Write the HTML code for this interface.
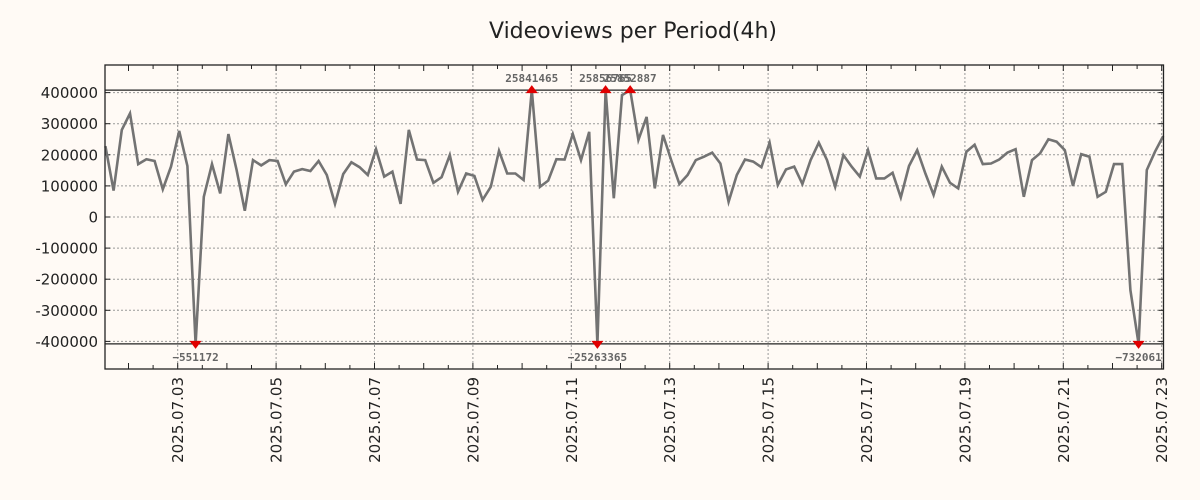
<!DOCTYPE html>
<html><head><meta charset="utf-8"><style>
body{margin:0;background:#fffaf5;}
svg{display:block;font-family:"DejaVu Sans","Liberation Sans",sans-serif;}
</style></head><body>
<svg id="chart" width="1200" height="500" viewBox="0 0 1200 500">
<rect x="0" y="0" width="1200" height="500" fill="#fffaf5"/>
<text x="633" y="38" text-anchor="middle" font-size="22" fill="#222">Videoviews per Period(4h)</text>
<g id="grid"></g>
<g id="yaxis"></g>
<g id="xaxis"></g>
<g id="series"></g>
<rect x="105" y="65" width="1058.5" height="304" fill="none" stroke="#222" stroke-width="1.3"/>
</svg>
<script>
const values = [228000,85000,280000,333000,170000,186000,180000,89000,162000,277000,164000,-551172,65000,170000,76000,267000,151000,20000,183000,166000,183000,180000,105000,146000,154000,148000,180000,135000,42000,138000,176000,160000,135000,218000,130000,146000,42000,280000,185000,183000,110000,128000,199000,81000,140000,132000,55000,97000,213000,140000,140000,119000,25841465,97000,117000,186000,185000,267000,183000,274000,-25263365,25856765,60000,392000,25852887,248000,322000,92000,264000,183000,106000,135000,183000,194000,207000,172000,49000,135000,185000,178000,160000,239000,103000,153000,162000,106000,183000,239000,183000,97000,199000,162000,130000,215000,124000,124000,142000,63000,164000,215000,140000,71000,162000,110000,92000,210000,232000,170000,172000,185000,207000,218000,65000,183000,205000,250000,242000,215000,100000,202000,194000,65000,81000,170000,170000,-235000,-732061,151000,210000,260000];
const yTicks = [400000,300000,200000,100000,0,-100000,-200000,-300000,-400000];
const xTickLabels = ["2025.07.03","2025.07.05","2025.07.07","2025.07.09","2025.07.11","2025.07.13","2025.07.15","2025.07.17","2025.07.19","2025.07.21","2025.07.23"];
const xTickDays = [2,4,6,8,10,12,14,16,18,20,22];
const startDay = 0.53, stepDay = 1/6, clipVal = 408000;

const NS = "http://www.w3.org/2000/svg";
const L=105,R=1163.5,T=65,B=369;
const yS = v => 217 - v/100000*31.1;
const xS = d => 177.7 + (d-2)*49.2;
function mk(tag, attrs, parent){const e=document.createElementNS(NS,tag);for(const k in attrs)e.setAttribute(k,attrs[k]);parent.appendChild(e);return e;}
const grid=document.getElementById('grid'), ya=document.getElementById('yaxis'), xa=document.getElementById('xaxis'), se=document.getElementById('series');

yTicks.forEach(v=>{
  const y=yS(v);
  const g=mk('line',{x1:L,x2:R,y1:y,y2:y,stroke:'#999','stroke-dasharray':'2,2','stroke-width':1},grid);
  
  
  const t1=mk('line',{x1:L,x2:L+5,y1:y,y2:y,stroke:'#222'},ya);
  
  
  const t2=mk('line',{x1:R-5,x2:R,y1:y,y2:y,stroke:'#222'},ya);
  
  
  const lb=mk('text',{x:98,y:y+5.5,'text-anchor':'end','font-size':15,fill:'#222'},ya);
  lb.textContent=String(v);
  
  
});
for(let d=1;d<=22;d+=0.5){
  const x=xS(d); if(x<L||x>R) continue;
  const big = Number.isInteger(d);
  const t1=mk('line',{x1:x,x2:x,y1:B,y2:B-(big?6:4),stroke:'#222'},xa);
  
  
  const t2=mk('line',{x1:x,x2:x,y1:T,y2:T+(big?6:4),stroke:'#222'},xa);
  
  
}
xTickDays.forEach((d,i)=>{
  const x=xS(d);
  const g=mk('line',{x1:x,x2:x,y1:T,y2:B,stroke:'#999','stroke-dasharray':'2,2','stroke-width':1},grid);
  
  
  const lb=mk('text',{x:0,y:0,'text-anchor':'end','font-size':15,fill:'#222',transform:`translate(${x+5.5},377) rotate(-90)`},xa);
  lb.textContent=xTickLabels[i];
  
  
});
[clipVal,-clipVal].forEach(v=>{
  const l=mk('line',{x1:L,x2:R,y1:yS(v),y2:yS(v),stroke:'#222','stroke-width':1.2},grid);
  
  
});
const pts = values.map((v,i)=>{const c=Math.max(-clipVal,Math.min(clipVal,v));return [xS(startDay+i*stepDay), yS(c)];});
const line=mk('polyline',{points:pts.map(p=>p[0].toFixed(1)+','+p[1].toFixed(1)).join(' '),fill:'none',stroke:'#737373','stroke-width':2.6,'stroke-linejoin':'miter'},se);


values.forEach((v,i)=>{
  if(Math.abs(v)<=clipVal) return;
  const [x,y]=pts[i];
  const up=v>0;
  const tri=mk('polygon',{points: up?`${x-6},${y+3} ${x+6},${y+3} ${x},${y-5}`:`${x-6},${y-3} ${x+6},${y-3} ${x},${y+5}`,fill:'#e00000'},se);
  
  
  const lb=mk('text',{x:x,y:up?y-8:y+17,'text-anchor':'middle','font-size':11,'font-weight':'bold','font-family':'"DejaVu Sans Mono","Liberation Mono",monospace',fill:'#666'},se);
  lb.textContent=String(v).replace('-','\u2212');
  
  
});
</script>
</body></html>
